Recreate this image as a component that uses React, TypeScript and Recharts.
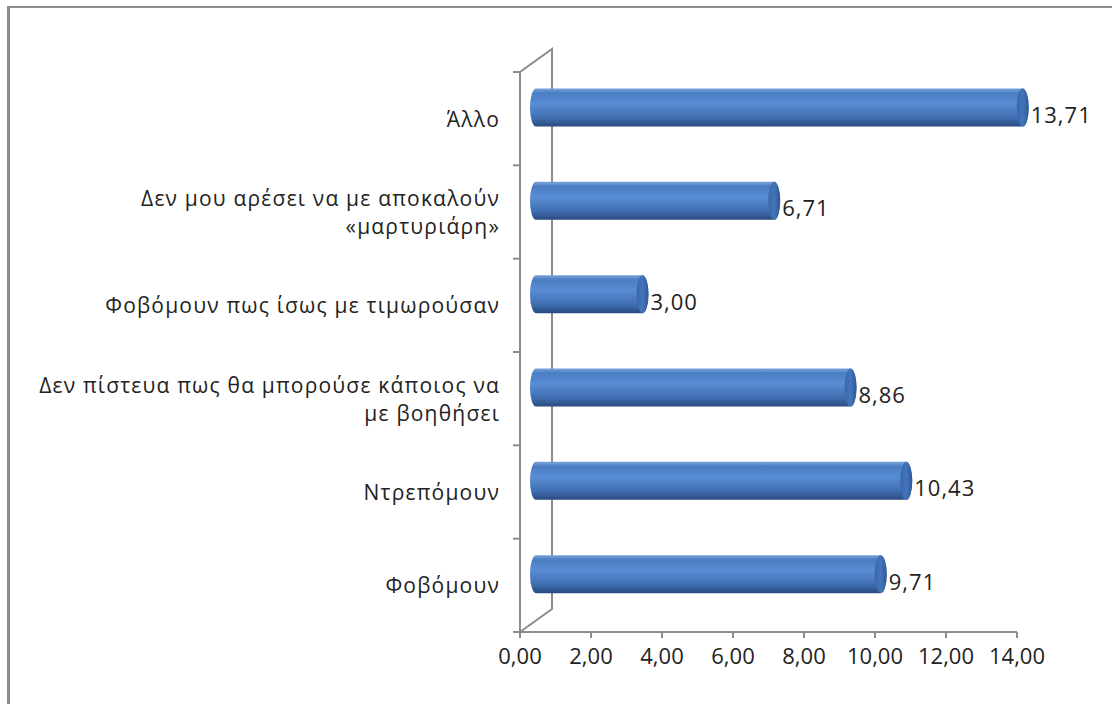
import React from "react";
import {
  BarChart,
  Bar,
  XAxis,
  YAxis,
  LabelList,
  Customized,
} from "recharts";

// categories top -> bottom, "\n" marks the line break used in the original
const categories = [
  "Άλλο",
  "Δεν μου αρέσει να με αποκαλούν\n«μαρτυριάρη»",
  "Φοβόμουν πως ίσως με τιμωρούσαν",
  "Δεν πίστευα πως θα μπορούσε κάποιος να\nμε βοηθήσει",
  "Ντρεπόμουν",
  "Φοβόμουν",
];
const values = [13.71, 6.71, 3.0, 8.86, 10.43, 9.71];
const xTicks = [0, 2, 4, 6, 8, 10, 12, 14];

const data = categories.map((name, i) => ({ name, value: values[i] }));

const W = 1112;
const H = 704;
const PLOT_LEFT = 520;
const PLOT_TOP = 72;
const PLOT_RIGHT = 1017;
const PLOT_BOTTOM = 632;
const DX = 32; // 3d depth
const DY = -23;
const AXIS = "#8c8c8c";
const TEXT = "#222";
const FONT = "'Open Sans', sans-serif";

const fmt = (v: number) => v.toFixed(2).replace(".", ",");

function Cylinder(props: any) {
  const { x, y, width, height } = props;
  if (width == null || height == null) return null;
  const rx = 6;
  const ry = height / 2;
  const x0 = x + DX / 2;
  const x1 = x0 + width;
  const y0 = y + DY / 2;
  const d = `M${x0},${y0} L${x1},${y0} A${rx},${ry} 0 0 1 ${x1},${y0 + height} L${x0},${y0 + height} A${rx},${ry} 0 0 1 ${x0},${y0} Z`;
  return (
    <g>
      <path d={d} fill="url(#cylBody)" />
      <ellipse cx={x1} cy={y0 + ry} rx={rx} ry={ry} fill="url(#cylCap)" />
    </g>
  );
}

function ValueLabel(props: any) {
  const { x, y, width, height, value } = props;
  return (
    <text
      x={x + width + 24}
      y={y + height / 2 - 5}
      dominantBaseline="central"
      fontFamily={FONT}
      fontSize={22}
      letterSpacing={1}
      fill={TEXT}
    >
      {fmt(Number(value))}
    </text>
  );
}

function CategoryTick(props: any) {
  const { x, y, payload, index } = props;
  const lines = String(payload.value).split("\n");
  const lh = 28;
  const band = (PLOT_BOTTOM - PLOT_TOP) / categories.length;
  const top = y - ((lines.length - 1) * lh) / 2;
  return (
    <g>
      <line x1={PLOT_LEFT - 7} x2={PLOT_LEFT} y1={y - band / 2} y2={y - band / 2} stroke={AXIS} strokeWidth={2} />
      {index === categories.length - 1 && (
        <line x1={PLOT_LEFT - 7} x2={PLOT_LEFT} y1={y + band / 2} y2={y + band / 2} stroke={AXIS} strokeWidth={2} />
      )}
      <text textAnchor="end" fontFamily={FONT} fontSize={21} letterSpacing={1.2} fill={TEXT}>
        {lines.map((l, i) => (
          <tspan key={i} x={x} y={top + i * lh} dominantBaseline="central">
            {l}
          </tspan>
        ))}
      </text>
    </g>
  );
}

function BackWall() {
  const pts = [
    [PLOT_LEFT, PLOT_TOP],
    [PLOT_LEFT + DX, PLOT_TOP + DY],
    [PLOT_LEFT + DX, PLOT_BOTTOM + DY],
    [PLOT_LEFT, PLOT_BOTTOM],
  ];
  return (
    <polyline
      points={pts.map((p) => p.join(",")).join(" ")}
      fill="none"
      stroke={AXIS}
      strokeWidth={2}
    />
  );
}

export default function App() {
  return (
    <div style={{ position: "absolute", left: 0, top: 0, width: W, height: H, background: "#fff" }}>
      <div
        style={{
          position: "absolute",
          left: 7,
          top: 6,
          right: 0,
          bottom: 0,
          borderLeft: `3px solid ${AXIS}`,
          borderTop: `2px solid ${AXIS}`,
        }}
      />
      <div style={{ position: "absolute", left: 0, top: 0 }}>
        <BarChart
          width={W}
          height={H}
          data={data}
          layout="vertical"
          barSize={38}
          margin={{ top: PLOT_TOP, right: W - PLOT_RIGHT, bottom: 32, left: 0 }}
        >
          <defs>
            <linearGradient id="cylBody" x1="0" y1="0" x2="0" y2="1">
              <stop offset="0%" stopColor="#7aa3dc" />
              <stop offset="12%" stopColor="#4b7dc2" />
              <stop offset="40%" stopColor="#588dd4" />
              <stop offset="75%" stopColor="#4270b4" />
              <stop offset="100%" stopColor="#294b80" />
            </linearGradient>
            <linearGradient id="cylCap" x1="0" y1="0" x2="1" y2="0">
              <stop offset="0%" stopColor="#3a67a8" />
              <stop offset="50%" stopColor="#4475ba" />
              <stop offset="100%" stopColor="#2f5895" />
            </linearGradient>
          </defs>
          <Customized component={BackWall} />
          <XAxis
            type="number"
            domain={[0, 14]}
            ticks={xTicks}
            tickFormatter={fmt}
            height={40}
            interval={0}
            axisLine={{ stroke: AXIS, strokeWidth: 2 }}
            tickLine={{ stroke: AXIS, strokeWidth: 2 }}
            tickSize={6}
            tickMargin={10}
            tick={{ fill: TEXT, fontSize: 22, fontFamily: FONT }}
          />
          <YAxis
            type="category"
            dataKey="name"
            width={PLOT_LEFT}
            interval={0}
            axisLine={{ stroke: AXIS, strokeWidth: 2 }}
            tickLine={false}
            tickSize={0}
            tickMargin={20}
            tick={<CategoryTick />}
          />
          <Bar dataKey="value" isAnimationActive={false} shape={<Cylinder />}>
            <LabelList dataKey="value" content={<ValueLabel />} />
          </Bar>
        </BarChart>
      </div>
    </div>
  );
}
